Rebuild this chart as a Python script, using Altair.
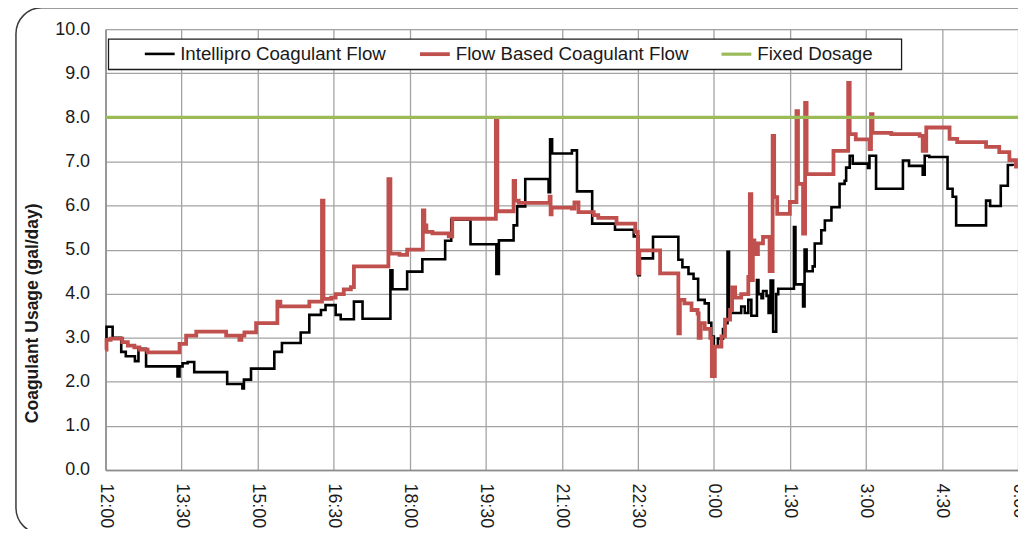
import altair as alt
import pandas as pd

# ---------------- data (hours after 12:00, gal/day) ----------------
series_names = ["Intellipro Coagulant Flow", "Flow Based Coagulant Flow", "Fixed Dosage"]
series_colors = ["#000000", "#C0504D", "#9BBB59"]
series_widths = [2.6, 3.8, 3.2]

intellipro = [
    (0.00, 2.95), (0.02, 3.25), (0.14, 3.00), (0.31, 2.68), (0.40, 2.58), (0.58, 2.47),
    (0.65, 2.75), (0.80, 2.35), (1.42, 2.12), (1.46, 2.35), (1.52, 2.42), (1.62, 2.45),
    (1.75, 2.22), (2.40, 1.95), (2.70, 1.85), (2.73, 2.05), (2.87, 2.30), (3.33, 2.68),
    (3.48, 2.88), (3.85, 3.12), (4.02, 3.52), (4.25, 3.63), (4.34, 3.74), (4.54, 3.52),
    (4.64, 3.42), (4.90, 3.82), (5.07, 3.43), (5.62, 4.53), (5.66, 4.10), (5.95, 4.50),
    (6.25, 4.78), (6.70, 5.20), (6.82, 5.68), (7.20, 5.12), (7.71, 4.45), (7.76, 5.21),
    (8.05, 5.55), (8.12, 5.98), (8.28, 6.60), (8.74, 6.30), (8.77, 7.50), (8.81, 7.18),
    (9.20, 7.25), (9.30, 6.32), (9.60, 5.59), (10.05, 5.45), (10.42, 5.30), (10.51, 4.42),
    (10.54, 4.80), (10.80, 5.29), (11.30, 4.77), (11.38, 4.60), (11.50, 4.45), (11.60, 4.34),
    (11.69, 3.86), (11.82, 3.78), (11.90, 3.34), (11.95, 3.03), (12.00, 2.80), (12.08, 2.98),
    (12.18, 3.20), (12.22, 3.33), (12.27, 4.95), (12.30, 3.56), (12.54, 3.71), (12.61, 3.56),
    (12.68, 3.86), (12.74, 3.50), (12.85, 4.31), (12.88, 3.99), (12.94, 3.90), (12.97, 4.06),
    (13.04, 3.95), (13.08, 3.56), (13.12, 4.30), (13.17, 3.14), (13.23, 3.99), (13.27, 4.11),
    (13.58, 5.51), (13.61, 4.21), (13.76, 3.71), (13.79, 5.00), (13.83, 4.51), (13.95, 4.62),
    (13.99, 5.14), (14.12, 5.44), (14.19, 5.66), (14.32, 5.96), (14.48, 6.49), (14.58, 6.56),
    (14.61, 6.86), (14.68, 7.13), (14.74, 6.95), (15.04, 6.85), (15.07, 7.13), (15.20, 6.38),
    (15.73, 7.02), (15.85, 6.90), (16.12, 6.70), (16.16, 7.13), (16.25, 7.10), (16.61, 6.38),
    (16.71, 6.20), (16.78, 5.55), (17.37, 6.11), (17.45, 5.99), (17.66, 6.45), (17.80, 6.92),
    (17.90, 6.90),
]

flow_based = [
    (0.00, 2.73), (0.02, 2.95), (0.10, 2.98), (0.33, 2.90), (0.44, 2.82), (0.57, 2.78),
    (0.67, 2.73), (0.83, 2.67), (1.46, 2.86), (1.59, 3.05), (1.79, 3.14), (2.38, 3.05),
    (2.64, 2.95), (2.68, 3.05), (2.74, 3.12), (2.97, 3.33), (3.39, 3.82), (3.45, 3.71),
    (4.02, 3.82), (4.27, 6.11), (4.30, 3.88), (4.45, 3.91), (4.54, 3.99), (4.70, 4.10),
    (4.84, 4.15), (4.90, 4.62), (5.58, 6.60), (5.62, 4.91), (5.80, 4.88), (5.95, 5.00),
    (6.26, 5.89), (6.29, 5.55), (6.33, 5.40), (6.45, 5.37), (6.77, 5.30), (6.84, 5.70),
    (7.70, 7.92), (7.73, 5.87), (8.05, 6.56), (8.08, 6.11), (8.15, 6.06), (8.76, 6.20),
    (8.78, 5.80), (8.80, 5.95), (9.20, 5.93), (9.25, 6.07), (9.33, 5.85), (9.63, 5.78),
    (9.72, 5.72), (10.08, 5.59), (10.45, 5.40), (10.50, 4.46), (10.53, 4.98), (10.94, 4.46),
    (11.30, 3.10), (11.33, 3.86), (11.42, 3.78), (11.56, 3.63), (11.68, 3.55), (11.70, 3.00),
    (11.74, 3.33), (11.82, 3.20), (11.93, 3.00), (11.96, 2.13), (12.02, 2.80), (12.15, 3.03),
    (12.22, 3.41), (12.32, 3.63), (12.36, 4.14), (12.42, 3.91), (12.54, 3.99), (12.68, 4.38),
    (12.71, 6.26), (12.74, 4.31), (12.77, 5.21), (12.80, 4.90), (12.87, 5.14), (12.97, 5.29),
    (13.10, 4.51), (13.16, 7.58), (13.19, 6.19), (13.25, 5.81), (13.50, 6.08), (13.63, 8.14),
    (13.66, 6.49), (13.76, 5.36), (13.80, 8.33), (13.83, 6.71), (14.36, 7.24), (14.65, 8.78),
    (14.68, 7.62), (14.80, 7.50), (15.07, 7.28), (15.10, 8.07), (15.13, 7.65), (15.50, 7.62),
    (16.06, 7.58), (16.12, 7.24), (16.19, 7.77), (16.65, 7.51), (16.80, 7.44), (17.37, 7.33),
    (17.63, 7.21), (17.83, 7.03), (17.96, 6.88), (18.00, 6.90),
]

fixed_dosage = [(0.0, 8.0), (18.0, 8.0)]

x_ticks = [0, 1.5, 3, 4.5, 6, 7.5, 9, 10.5, 12, 13.5, 15, 16.5, 18]
y_ticks = [0, 1, 2, 3, 4, 5, 6, 7, 8, 9, 10]

# ---------------- table ----------------
rows = []
for name, pts in zip(series_names, [intellipro, flow_based, fixed_dosage]):
    for i, (t, v) in enumerate(pts):
        rows.append({"series": name, "t": t, "v": v, "idx": i})
df = pd.DataFrame(rows)

FONT = "Liberation Sans"
TXT = "#1a1a1a"

frame = alt.Chart(pd.DataFrame({"k": [0]})).mark_rect(
    fillOpacity=0, stroke="#3a3a3a", strokeWidth=1.5, cornerRadius=26
).encode(
    x=alt.value(-90), x2=alt.value(960), y=alt.value(-21.5), y2=alt.value(507)
)

legend_spec = alt.Legend(
    title=None, orient="none", legendX=38, legendY=8, direction="horizontal",
    symbolType="stroke", symbolSize=900, labelFontSize=18.8, labelFont=FONT,
    labelColor=TXT, columnPadding=26, labelOffset=4, padding=0, labelLimit=400,
)

lines = alt.Chart(df).mark_line(interpolate="step-after").encode(
    x=alt.X(
        "t:Q",
        scale=alt.Scale(domain=[0, 18], nice=False, zero=False),
        axis=alt.Axis(
            values=x_ticks, title=None, ticks=False, labelAngle=90, labelAlign="left",
            labelBaseline="middle", labelPadding=13, labelFontSize=18, labelFont=FONT,
            labelColor=TXT,
            labelExpr="((12 + floor(datum.value)) % 24) + ':' + (datum.value % 1 ? '30' : '00')",
            domainColor="#8c8c8c", domainWidth=1.5, gridColor="#a3a3a3", gridWidth=1.3,
        ),
    ),
    y=alt.Y(
        "v:Q",
        scale=alt.Scale(domain=[0, 10], nice=False),
        axis=alt.Axis(
            values=y_ticks, format=".1f", ticks=False, labelPadding=16, labelFontSize=18,
            labelFont=FONT, labelColor=TXT, title="Coagulant Usage (gal/day)",
            titleFont=FONT, titleFontSize=17.6, titleFontWeight="bold", titleColor=TXT,
            titleX=-73, titleY=285, titleAngle=270, titleAlign="center",
            titleBaseline="middle", domainColor="#8c8c8c", domainWidth=1.5,
            gridColor="#a3a3a3", gridWidth=1.3,
        ),
    ),
    color=alt.Color(
        "series:N", scale=alt.Scale(domain=series_names, range=series_colors),
        legend=legend_spec,
    ),
    strokeWidth=alt.StrokeWidth(
        "series:N",
        scale=alt.Scale(type="ordinal", domain=series_names, range=series_widths),
        legend=legend_spec,
    ),
    order="idx:Q",
)

legend_box = alt.Chart(pd.DataFrame({"k": [0]})).mark_rect(
    fill="white", stroke="#1a1a1a", strokeWidth=1.3
).encode(
    x=alt.value(3), x2=alt.value(800), y=alt.value(10), y2=alt.value(40.5)
)

chart = alt.layer(frame, lines, legend_box).properties(
    width=917, height=443,
    autosize=alt.AutoSizeParams(type="none"),
    padding={"left": 98, "top": 20, "right": 0, "bottom": 58},
).configure_view(stroke="#3a3a3a", strokeWidth=1.3).configure(background="white")

chart.save("out.html", embed_options={"renderer": "svg", "actions": False})
